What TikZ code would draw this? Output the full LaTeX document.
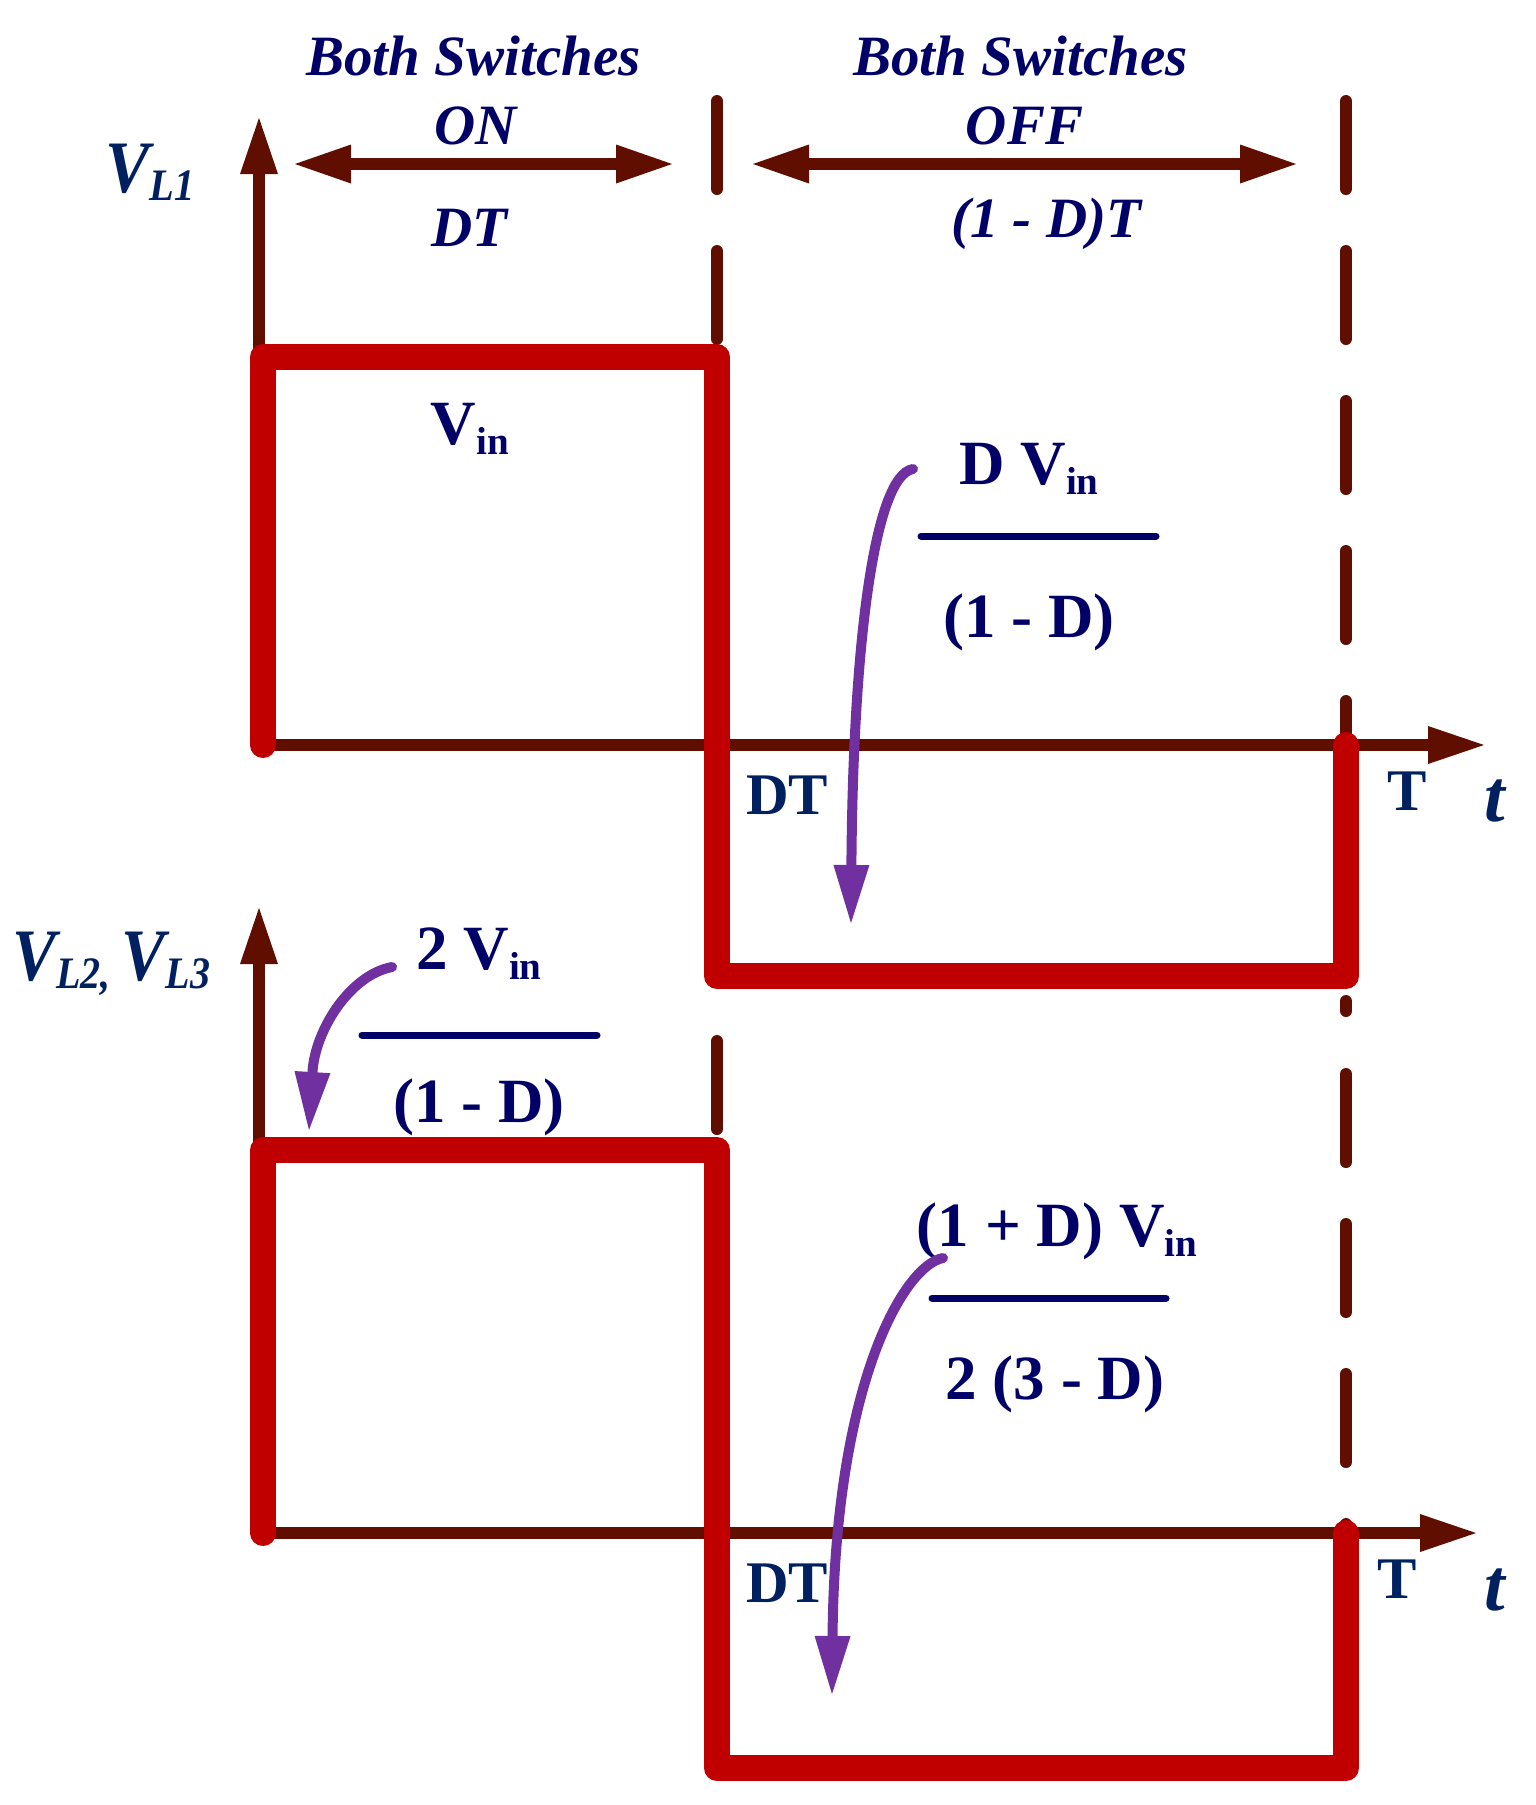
\documentclass[tikz,border=0pt]{standalone}
\usepackage{fontspec}
\setmainfont{Liberation Serif}
\usepackage{graphicx}
\usepackage{tikz}
\usepackage{xcolor}
\usetikzlibrary{arrows.meta, positioning}
\definecolor{axisbrown}{RGB}{96,14,0}
\definecolor{wavered}{RGB}{192,0,0}
\definecolor{callpurple}{RGB}{112,48,160}
\definecolor{textnavy}{RGB}{0,0,102}
\definecolor{textblue}{RGB}{0,32,96}
\tikzstyle{axisline} = [draw=axisbrown, line width=6pt, -{Triangle[length=28pt,width=19pt,line width=0pt]}]
\tikzstyle{period} = [draw=axisbrown, line width=6pt, {Triangle[length=28pt,width=19.5pt,line width=0pt]}-{Triangle[length=28pt,width=19.5pt,line width=0pt]}]
\tikzstyle{guide} = [draw=axisbrown, line width=6pt, line cap=round, dash pattern=on 44pt off 31pt]
\tikzstyle{wave} = [draw=wavered, line width=13pt, line cap=round, line join=round]
\tikzstyle{callout} = [draw=callpurple, line width=5pt, line cap=round, -{Triangle[length=29pt,width=18pt,line width=0pt]}]
\tikzstyle{bar} = [draw=textnavy, line width=3.5pt, line cap=round]
\tikzstyle{head} = [inner sep=0, anchor=base, text=textnavy, font=\fontsize{28.5}{30}\selectfont\bfseries\itshape]
\tikzstyle{frac} = [inner sep=0, anchor=base, text=textnavy, font=\fontsize{31.5}{34}\selectfont\bfseries]
\tikzstyle{tick} = [inner sep=0, anchor=base, text=textblue, font=\fontsize{29.5}{31}\selectfont\bfseries]
\tikzstyle{ylab} = [inner sep=0, anchor=base west, text=textblue, font=\fontsize{37}{40}\selectfont\bfseries\itshape]
\tikzstyle{tlab} = [inner sep=0, anchor=base, text=textblue, font=\fontsize{37}{40}\selectfont\bfseries\itshape]
\newcommand{\insub}{\raisebox{-5pt}{\fontsize{19.5}{20}\selectfont in}}
\newcommand{\lsub}[1]{\raisebox{-4pt}{\fontsize{22.5}{24}\selectfont #1}}

\begin{document}
\begin{tikzpicture}[x=0.5pt, y=-0.5pt]
\useasboundingbox (0,0) rectangle (1536,1805);

\coordinate (o1) at (259,745);
\coordinate (y1) at (259,118);
\coordinate (x1) at (1484,745);
\coordinate (o2) at (259,1533);
\coordinate (y2) at (259,908);
\coordinate (x2) at (1476,1533);
\coordinate (on1) at (295,164);
\coordinate (on2) at (672,164);
\coordinate (off1) at (753,164);
\coordinate (off2) at (1296,164);

\path [guide] (717,101) -- (717,960);
\path [guide] (717,1041) -- (717,1768);
\path [guide] (1346,101) -- (1346,1011);
\path [guide] (1346,1074) -- (1346,1768);

\path [axisline] (o1) -- (y1);
\path [axisline] (o1) -- (x1);
\path [axisline] (o2) -- (y2);
\path [axisline] (o2) -- (x2);

\path [period] (on1) -- node[head, xshift=-5pt, yshift=44.5pt] (bs1) {Both Switches}
  node[head, xshift=-4pt, yshift=10pt] (on) {ON}
  node[head, xshift=-7pt, yshift=-41pt] (dton) {DT} (on2);
\path [period] (off1) -- node[head, xshift=-2pt, yshift=44.5pt] (bs2) {Both Switches}
  node[head, yshift=10pt] (off) {OFF}
  node[head, xshift=10.75pt, yshift=-36.5pt] (dtoff) {(1 - D)T} (off2);

\path [wave] (263,745) -- (263,357) -- (717,357) -- (717,976) -- (1346,976) -- (1346,745);
\path [wave] (263,1533) -- (263,1150) -- (717,1150) -- (717,1768) -- (1346,1768) -- (1346,1533);

\node [ylab] (vl1) at (105,192) {\scalebox{0.9}[1]{V\lsub{L1}}};
\node [ylab] (vl2) at (12,980) {\scalebox{0.89}[1]{V\lsub{L2,}\,V\lsub{L3}}};

\node [frac] (vin) at (470,444) {V\insub};

\node [frac] (n1) at (1029,484) {D V\insub};
\path [bar] (921,536) -- (1156,536);
\node [frac] (d1) at (1029,637) {(1 - D)};

\node [frac] (n2) at (479,969) {2 V\insub};
\path [bar] (362,1035) -- (597,1035);
\node [frac] (d2) at (479,1122) {(1 - D)};

\node [frac] (n3) at (1057,1246) {(1 + D) V\insub};
\path [bar] (932,1298) -- (1166,1298);
\node [frac] (d3) at (1055,1399) {2 (3 - D)};

\node [tick] (dt1) at (787,814) {DT};
\node [tick] (T1) at (1407,810) {T};
\node [tlab] (t1) at (1495,821) {t};
\node [tick] (dt2) at (787,1602) {DT};
\node [tick] (T2) at (1397,1598) {T};
\node [tlab] (t2) at (1495,1610) {t};

\coordinate (p1s) at (913,469);
\coordinate (p1e) at (851,923);
\coordinate (p2s) at (392,967);
\coordinate (p2e) at (309,1130);
\coordinate (p3s) at (943,1258);
\coordinate (p3e) at (832,1694);
\path [callout] (p1s) .. controls (875,475) and (853,640) .. (p1e);
\path [callout] (p2s) .. controls (350,975) and (315,1030) .. (p2e);
\path [callout] (p3s) .. controls (905,1265) and (835,1380) .. (p3e);

\end{tikzpicture}
\end{document}
